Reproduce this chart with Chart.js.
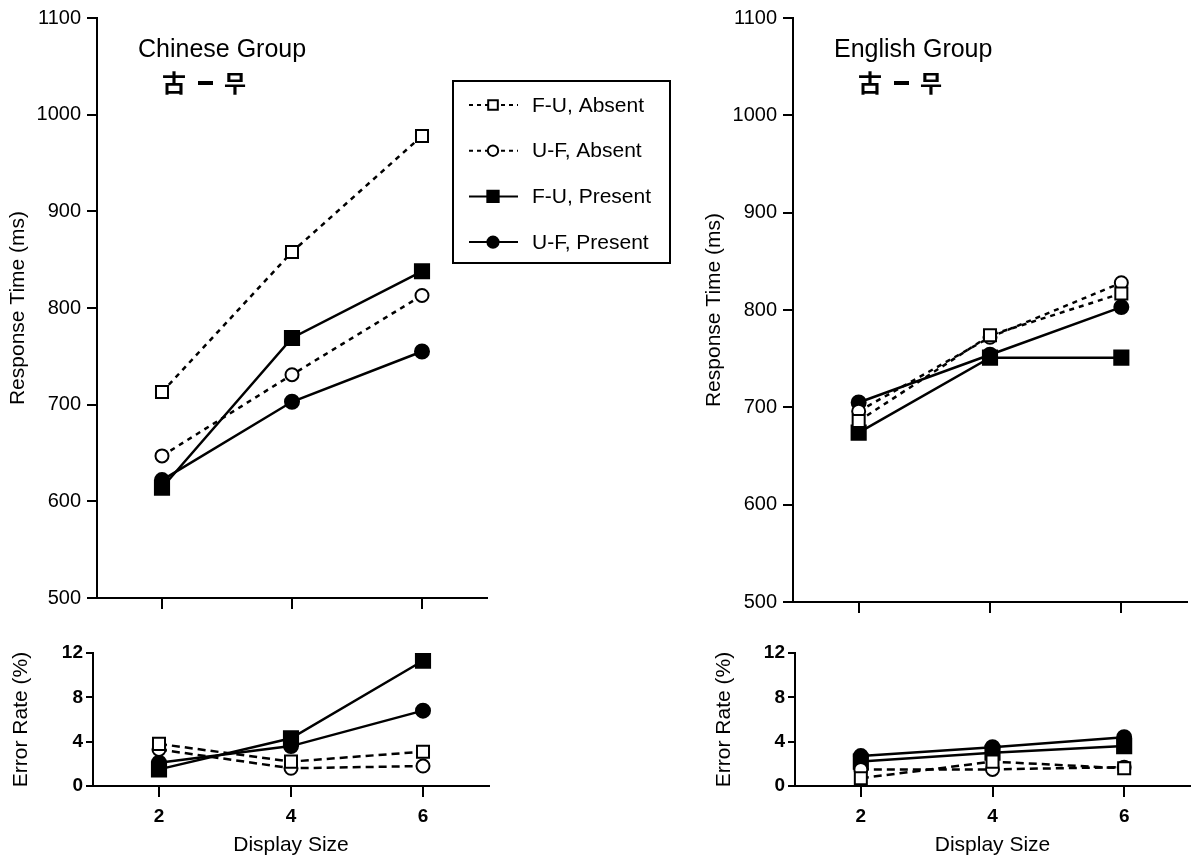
<!DOCTYPE html>
<html>
<head>
<meta charset="utf-8">
<title>Display size: response time and error rate</title>
<script src="https://cdn.jsdelivr.net/npm/chart.js@4.4.1/dist/chart.umd.min.js"></script>
<style>
  html, body { margin: 0; padding: 0; background: #fff; }
  #stage { position: relative; width: 1196px; height: 860px; overflow: hidden; }
  #stage canvas { position: absolute; }
</style>
</head>
<body>
<div id="stage">
  <canvas id="rtChinese" width="690" height="620" style="left:0;top:0"></canvas>
  <canvas id="errChinese" width="690" height="240" style="left:0;top:620px"></canvas>
  <canvas id="rtEnglish" width="506" height="620" style="left:690px;top:0"></canvas>
  <canvas id="errEnglish" width="506" height="240" style="left:690px;top:620px"></canvas>
</div>
<script>
/* ---- data ---- */
const displaySizes = [2, 4, 6];
const seriesLabels = ['F-U, Absent', 'U-F, Absent', 'F-U, Present', 'U-F, Present'];
const rtTicks = [500, 600, 700, 800, 900, 1000, 1100];
const errTicks = [0, 4, 8, 12];

// Chinese group, response time (ms)
const chineseRtFuAbsent = [713, 858, 978];
const chineseRtUfAbsent = [647, 731, 813];
const chineseRtFuPresent = [614, 769, 838];
const chineseRtUfPresent = [622, 703, 755];

// Chinese group, error rate (%)
const chineseErrFuAbsent = [3.8, 2.2, 3.1];
const chineseErrUfAbsent = [3.3, 1.6, 1.8];
const chineseErrFuPresent = [1.5, 4.3, 11.3];
const chineseErrUfPresent = [2.1, 3.6, 6.8];

// English group, response time (ms)
const englishRtFuAbsent = [686, 774, 817];
const englishRtUfAbsent = [696, 772, 828];
const englishRtFuPresent = [674, 751, 751];
const englishRtUfPresent = [705, 754, 803];

// English group, error rate (%)
const englishErrFuAbsent = [0.7, 2.2, 1.6];
const englishErrUfAbsent = [1.5, 1.5, 1.7];
const englishErrFuPresent = [2.2, 3.0, 3.6];
const englishErrUfPresent = [2.7, 3.5, 4.4];

/* ---- look ---- */
const FONT = "'Liberation Sans', Arial, Helvetica, sans-serif";
const CJK_FONT = "'Noto Sans CJK KR', 'Noto Sans CJK SC', sans-serif";
Chart.defaults.font.family = FONT;
Chart.defaults.color = '#000';

// marker + line style for each of the four conditions
const seriesStyles = [
  { pointStyle: 'rect', filled: false, dashed: true, radius: 8.5 },
  { pointStyle: 'circle', filled: false, dashed: true, radius: 6.5 },
  { pointStyle: 'rect', filled: true, dashed: false, radius: 10 },
  { pointStyle: 'circle', filled: true, dashed: false, radius: 7 }
];

function buildDatasets(seriesValues, dash) {
  return seriesValues.map((values, i) => {
    const st = seriesStyles[i];
    return {
      label: seriesLabels[i],
      data: values.map((v, k) => ({ x: displaySizes[k], y: v })),
      borderColor: '#000',
      borderWidth: 2.5,
      borderDash: st.dashed ? dash : [],
      pointStyle: st.pointStyle,
      pointRadius: st.radius,
      pointHoverRadius: st.radius,
      pointBorderWidth: 2,
      pointBorderColor: '#000',
      pointBackgroundColor: st.filled ? '#000' : '#fff',
      fill: false,
      tension: 0
    };
  });
}

/* panel title ("Chinese Group" + stimulus pair) */
const panelTitlePlugin = {
  id: 'panelTitle',
  afterDraw(chart, args, opts) {
    if (!opts || !opts.text) return;
    const { ctx, chartArea } = chart;
    ctx.save();
    ctx.fillStyle = '#000';
    ctx.textBaseline = 'alphabetic';
    ctx.font = `25px ${FONT}`;
    ctx.fillText(opts.text, chartArea.left + 41, 57);
    ctx.font = `bold 24px ${CJK_FONT}`;
    ctx.textBaseline = 'middle';
    ctx.fillText('古', chartArea.left + 65, 83);
    ctx.fillRect(chartArea.left + 101, 81, 15, 4);
    ctx.fillText('무', chartArea.left + 127, 83);
    ctx.restore();
  }
};

/* boxed legend with line sample + marker */
const boxLegendPlugin = {
  id: 'boxLegend',
  afterDraw(chart, args, opts) {
    if (!opts || !opts.show) return;
    const { ctx } = chart;
    const box = { x: 453, y: 81, w: 217, h: 182 };
    ctx.save();
    ctx.strokeStyle = '#000';
    ctx.lineWidth = 2;
    ctx.setLineDash([]);
    ctx.strokeRect(box.x, box.y, box.w, box.h);

    chart.data.datasets.forEach((ds, i) => {
      const y = 105 + i * 45.7;
      ctx.strokeStyle = '#000';
      ctx.lineWidth = 2;
      ctx.setLineDash(ds.borderDash.length ? [4, 4] : []);
      ctx.beginPath();
      ctx.moveTo(469, y);
      ctx.lineTo(518, y);
      ctx.stroke();

      ctx.setLineDash([]);
      ctx.fillStyle = ds.pointBackgroundColor;
      ctx.lineWidth = 2;
      Chart.helpers.drawPoint(ctx, {
        pointStyle: ds.pointStyle,
        radius: ds.pointRadius * 0.8,
        borderWidth: 2,
        rotation: 0
      }, 493, y);

      ctx.fillStyle = '#000';
      ctx.font = `21px ${FONT}`;
      ctx.textBaseline = 'middle';
      ctx.fillText(ds.label, 532, y + 1);
    });
    ctx.restore();
  }
};

function makePanel(canvasId, cfg) {
  const canvas = document.getElementById(canvasId);
  const W = canvas.width;
  const H = canvas.height;
  const area = cfg.area;
  const isRt = cfg.kind === 'rt';

  return new Chart(canvas, {
    type: 'line',
    data: { datasets: buildDatasets(cfg.series, isRt ? [5, 5] : [8, 5]) },
    plugins: [panelTitlePlugin, boxLegendPlugin],
    options: {
      responsive: false,
      animation: false,
      events: [],
      layout: {
        autoPadding: false,
        padding: { left: 0, top: area.top, right: W - area.right, bottom: 0 }
      },
      plugins: {
        legend: { display: false },
        tooltip: { enabled: false },
        panelTitle: { text: cfg.title },
        boxLegend: { show: !!cfg.legend }
      },
      scales: {
        x: {
          type: 'linear',
          min: 1,
          max: 7,
          afterFit: s => { s.height = H - area.bottom; },
          afterBuildTicks: s => { s.ticks = displaySizes.map(v => ({ value: v })); },
          border: { display: true, color: '#000', width: 2 },
          grid: { display: true, drawOnChartArea: false, drawTicks: true, tickLength: 11, color: '#000', lineWidth: 2 },
          ticks: {
            color: '#000',
            padding: 8,
            maxRotation: 0,
            font: { family: FONT, size: 19, weight: 'bold' },
            callback: v => (cfg.xLabels ? String(v) : '')
          },
          title: {
            display: !!cfg.xLabels,
            text: 'Display Size',
            color: '#000',
            font: { family: FONT, size: 21 },
            padding: { top: 0, bottom: 2 }
          }
        },
        y: {
          type: 'linear',
          min: isRt ? rtTicks[0] : errTicks[0],
          max: isRt ? rtTicks[rtTicks.length - 1] : errTicks[errTicks.length - 1],
          afterFit: s => { s.width = area.left; },
          afterBuildTicks: s => { s.ticks = (isRt ? rtTicks : errTicks).map(v => ({ value: v })); },
          border: { display: true, color: '#000', width: 2 },
          grid: { display: true, drawOnChartArea: false, drawTicks: true, tickLength: isRt ? 10 : 7, color: '#000', lineWidth: 2 },
          ticks: {
            color: '#000',
            padding: isRt ? 6 : 3,
            font: { family: FONT, size: isRt ? 20 : 19, weight: isRt ? 'normal' : 'bold' },
            callback: v => String(v)
          },
          title: {
            display: true,
            text: isRt ? 'Response Time (ms)' : 'Error Rate (%)',
            color: '#000',
            font: { family: FONT, size: 21 },
            padding: { top: cfg.yTitlePad, bottom: 0 }
          }
        }
      }
    }
  });
}

makePanel('rtChinese', {
  kind: 'rt',
  title: 'Chinese Group',
  legend: true,
  area: { left: 97, right: 487, top: 17, bottom: 598 },
  yTitlePad: 6,
  series: [chineseRtFuAbsent, chineseRtUfAbsent, chineseRtFuPresent, chineseRtUfPresent]
});

makePanel('errChinese', {
  kind: 'err',
  xLabels: true,
  area: { left: 93, right: 489, top: 33, bottom: 166 },
  yTitlePad: 9,
  series: [chineseErrFuAbsent, chineseErrUfAbsent, chineseErrFuPresent, chineseErrUfPresent]
});

makePanel('rtEnglish', {
  kind: 'rt',
  title: 'English Group',
  area: { left: 103, right: 497, top: 16, bottom: 604 },
  yTitlePad: 12,
  series: [englishRtFuAbsent, englishRtUfAbsent, englishRtFuPresent, englishRtUfPresent]
});

makePanel('errEnglish', {
  kind: 'err',
  xLabels: true,
  area: { left: 105, right: 500, top: 33, bottom: 166 },
  yTitlePad: 22,
  series: [englishErrFuAbsent, englishErrUfAbsent, englishErrFuPresent, englishErrUfPresent]
});
</script>
</body>
</html>
